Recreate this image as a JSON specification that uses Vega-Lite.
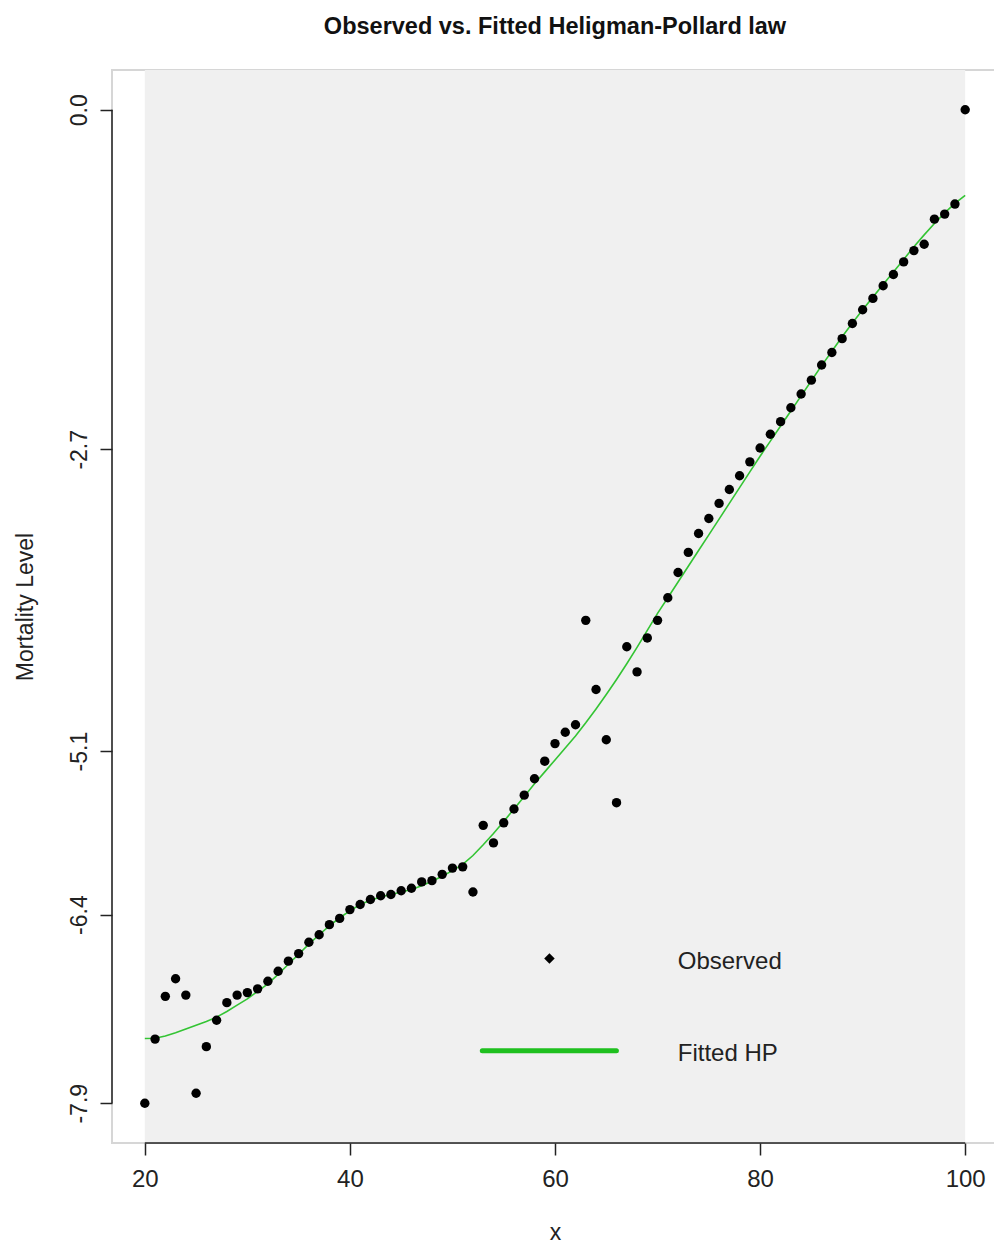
{
  "$schema": "https://vega.github.io/schema/vega-lite/v6.json",
  "width": 886,
  "height": 1073,
  "autosize": {"type": "none"},
  "padding": {"left": 112, "top": 70, "right": 0, "bottom": 101},
  "background": "white",
  "config": {
    "font": "Liberation Sans",
    "view": {"stroke": "#d6d6d6", "strokeWidth": 2},
    "axis": {
      "domain": false,
      "grid": false,
      "tickColor": "#222222",
      "tickWidth": 1.5,
      "tickSize": 12,
      "labelColor": "#222222",
      "labelFont": "Liberation Sans",
      "titleFont": "Liberation Sans",
      "titleFontWeight": "normal",
      "titleColor": "#222222"
    }
  },
  "title": {
    "text": "Observed vs. Fitted Heligman-Pollard law",
    "fontSize": 23.5,
    "fontWeight": "bold",
    "font": "Liberation Sans",
    "color": "#111111",
    "anchor": "middle",
    "offset": 32
  },
  "datasets": {
    "mortality": [
      {"age": 20, "observed": -7.90, "fitted": -7.385},
      {"age": 21, "observed": -7.39, "fitted": -7.383},
      {"age": 22, "observed": -7.05, "fitted": -7.365},
      {"age": 23, "observed": -6.91, "fitted": -7.340},
      {"age": 24, "observed": -7.04, "fitted": -7.310},
      {"age": 25, "observed": -7.82, "fitted": -7.280},
      {"age": 26, "observed": -7.45, "fitted": -7.250},
      {"age": 27, "observed": -7.24, "fitted": -7.215},
      {"age": 28, "observed": -7.10, "fitted": -7.170},
      {"age": 29, "observed": -7.04, "fitted": -7.120},
      {"age": 30, "observed": -7.02, "fitted": -7.070},
      {"age": 31, "observed": -6.99, "fitted": -7.010},
      {"age": 32, "observed": -6.93, "fitted": -6.950},
      {"age": 33, "observed": -6.85, "fitted": -6.875},
      {"age": 34, "observed": -6.77, "fitted": -6.795},
      {"age": 35, "observed": -6.71, "fitted": -6.715},
      {"age": 36, "observed": -6.62, "fitted": -6.635},
      {"age": 37, "observed": -6.56, "fitted": -6.560},
      {"age": 38, "observed": -6.48, "fitted": -6.490},
      {"age": 39, "observed": -6.43, "fitted": -6.425},
      {"age": 40, "observed": -6.36, "fitted": -6.370},
      {"age": 41, "observed": -6.32, "fitted": -6.320},
      {"age": 42, "observed": -6.28, "fitted": -6.285},
      {"age": 43, "observed": -6.25, "fitted": -6.260},
      {"age": 44, "observed": -6.24, "fitted": -6.240},
      {"age": 45, "observed": -6.21, "fitted": -6.220},
      {"age": 46, "observed": -6.19, "fitted": -6.200},
      {"age": 47, "observed": -6.14, "fitted": -6.170},
      {"age": 48, "observed": -6.13, "fitted": -6.135},
      {"age": 49, "observed": -6.08, "fitted": -6.095},
      {"age": 50, "observed": -6.03, "fitted": -6.050},
      {"age": 51, "observed": -6.02, "fitted": -6.000},
      {"age": 52, "observed": -6.22, "fitted": -5.930},
      {"age": 53, "observed": -5.69, "fitted": -5.845},
      {"age": 54, "observed": -5.83, "fitted": -5.755},
      {"age": 55, "observed": -5.67, "fitted": -5.660},
      {"age": 56, "observed": -5.56, "fitted": -5.560},
      {"age": 57, "observed": -5.45, "fitted": -5.460},
      {"age": 58, "observed": -5.32, "fitted": -5.360},
      {"age": 59, "observed": -5.18, "fitted": -5.265},
      {"age": 60, "observed": -5.04, "fitted": -5.170},
      {"age": 61, "observed": -4.95, "fitted": -5.075},
      {"age": 62, "observed": -4.89, "fitted": -4.980},
      {"age": 63, "observed": -4.06, "fitted": -4.875},
      {"age": 64, "observed": -4.61, "fitted": -4.765},
      {"age": 65, "observed": -5.01, "fitted": -4.650},
      {"age": 66, "observed": -5.51, "fitted": -4.530},
      {"age": 67, "observed": -4.27, "fitted": -4.405},
      {"age": 68, "observed": -4.47, "fitted": -4.275},
      {"age": 69, "observed": -4.20, "fitted": -4.140},
      {"age": 70, "observed": -4.06, "fitted": -4.005},
      {"age": 71, "observed": -3.88, "fitted": -3.880},
      {"age": 72, "observed": -3.68, "fitted": -3.755},
      {"age": 73, "observed": -3.52, "fitted": -3.630},
      {"age": 74, "observed": -3.37, "fitted": -3.505},
      {"age": 75, "observed": -3.25, "fitted": -3.380},
      {"age": 76, "observed": -3.13, "fitted": -3.255},
      {"age": 77, "observed": -3.02, "fitted": -3.130},
      {"age": 78, "observed": -2.91, "fitted": -3.005},
      {"age": 79, "observed": -2.80, "fitted": -2.880},
      {"age": 80, "observed": -2.69, "fitted": -2.755},
      {"age": 81, "observed": -2.58, "fitted": -2.635},
      {"age": 82, "observed": -2.48, "fitted": -2.515},
      {"age": 83, "observed": -2.37, "fitted": -2.395},
      {"age": 84, "observed": -2.26, "fitted": -2.275},
      {"age": 85, "observed": -2.15, "fitted": -2.155},
      {"age": 86, "observed": -2.03, "fitted": -2.035},
      {"age": 87, "observed": -1.93, "fitted": -1.920},
      {"age": 88, "observed": -1.82, "fitted": -1.805},
      {"age": 89, "observed": -1.70, "fitted": -1.695},
      {"age": 90, "observed": -1.59, "fitted": -1.590},
      {"age": 91, "observed": -1.50, "fitted": -1.490},
      {"age": 92, "observed": -1.40, "fitted": -1.390},
      {"age": 93, "observed": -1.31, "fitted": -1.290},
      {"age": 94, "observed": -1.21, "fitted": -1.190},
      {"age": 95, "observed": -1.12, "fitted": -1.090},
      {"age": 96, "observed": -1.07, "fitted": -0.995},
      {"age": 97, "observed": -0.87, "fitted": -0.905},
      {"age": 98, "observed": -0.83, "fitted": -0.820},
      {"age": 99, "observed": -0.75, "fitted": -0.745},
      {"age": 100, "observed": 0.00, "fitted": -0.680}
    ]
  },
  "data": {"name": "mortality"},
  "layer": [
    {
      "data": {"values": [{}]},
      "mark": {"type": "rect", "color": "#f0f0f0"},
      "encoding": {
        "x": {"datum": 20, "type": "quantitative", "scale": {"domain": [16.8, 103.2], "nice": false, "zero": false}},
        "x2": {"datum": 100}
      }
    },
    {
      "data": {"values": [{}]},
      "mark": {"type": "rule", "color": "#222222", "strokeWidth": 1.5},
      "encoding": {
        "x": {"datum": 16.8, "type": "quantitative", "scale": {"domain": [16.8, 103.2], "nice": false, "zero": false}},
        "y": {"datum": -7.9, "type": "quantitative", "scale": {"domain": [-8.216, 0.316], "nice": false, "zero": false}},
        "y2": {"datum": 0}
      }
    },
    {
      "data": {"values": [{}]},
      "mark": {"type": "rule", "color": "#222222", "strokeWidth": 1.5},
      "encoding": {
        "x": {"datum": 20, "type": "quantitative", "scale": {"domain": [16.8, 103.2], "nice": false, "zero": false}},
        "x2": {"datum": 100},
        "y": {"datum": -8.216, "type": "quantitative", "scale": {"domain": [-8.216, 0.316], "nice": false, "zero": false}}
      }
    },
    {
      "mark": {"type": "line", "color": "#33c433", "strokeWidth": 1.6, "interpolate": "linear"},
      "encoding": {
        "x": {"field": "age", "type": "quantitative", "scale": {"domain": [16.8, 103.2], "nice": false, "zero": false}},
        "y": {"field": "fitted", "type": "quantitative", "scale": {"domain": [-8.216, 0.316], "nice": false, "zero": false}}
      }
    },
    {
      "mark": {"type": "circle", "color": "#000000", "opacity": 1, "size": 88},
      "encoding": {
        "x": {
          "field": "age",
          "type": "quantitative",
          "scale": {"domain": [16.8, 103.2], "nice": false, "zero": false},
          "axis": {
            "title": "x",
            "values": [20, 40, 60, 80, 100],
            "labelFontSize": 24,
            "labelPadding": 12,
            "titleFontSize": 23,
            "titlePadding": 30
          }
        },
        "y": {
          "field": "observed",
          "type": "quantitative",
          "scale": {"domain": [-8.216, 0.316], "nice": false, "zero": false},
          "axis": {
            "title": "Mortality Level",
            "values": [0, -2.7, -5.1, -6.4, -7.9],
            "labelExpr": "datum.value == 0 ? '0.0' : toString(datum.value)",
            "labelAngle": -90,
            "labelAlign": "center",
            "labelBaseline": "alphabetic",
            "labelFontSize": 23,
            "labelPadding": 14,
            "titleFontSize": 23,
            "titlePadding": 31
          }
        }
      }
    },
    {
      "data": {"values": [{}]},
      "mark": {"type": "point", "shape": "diamond", "filled": true, "color": "#000000", "opacity": 1, "size": 110},
      "encoding": {
        "x": {"datum": 59.46, "type": "quantitative", "scale": {"domain": [16.8, 103.2], "nice": false, "zero": false}},
        "y": {"datum": -6.749, "type": "quantitative", "scale": {"domain": [-8.216, 0.316], "nice": false, "zero": false}}
      }
    },
    {
      "data": {"values": [{}]},
      "mark": {"type": "rule", "color": "#1fc01f", "strokeWidth": 5, "strokeCap": "round"},
      "encoding": {
        "x": {"datum": 52.91, "type": "quantitative", "scale": {"domain": [16.8, 103.2], "nice": false, "zero": false}},
        "x2": {"datum": 65.99},
        "y": {"datum": -7.483, "type": "quantitative", "scale": {"domain": [-8.216, 0.316], "nice": false, "zero": false}}
      }
    },
    {
      "data": {"values": [{}]},
      "mark": {"type": "text", "align": "left", "baseline": "middle", "fontSize": 24, "font": "Liberation Sans", "color": "#222222", "text": "Observed"},
      "encoding": {
        "x": {"datum": 71.97, "type": "quantitative", "scale": {"domain": [16.8, 103.2], "nice": false, "zero": false}},
        "y": {"datum": -6.78, "type": "quantitative", "scale": {"domain": [-8.216, 0.316], "nice": false, "zero": false}}
      }
    },
    {
      "data": {"values": [{}]},
      "mark": {"type": "text", "align": "left", "baseline": "middle", "fontSize": 24, "font": "Liberation Sans", "color": "#222222", "text": "Fitted HP"},
      "encoding": {
        "x": {"datum": 71.97, "type": "quantitative", "scale": {"domain": [16.8, 103.2], "nice": false, "zero": false}},
        "y": {"datum": -7.51, "type": "quantitative", "scale": {"domain": [-8.216, 0.316], "nice": false, "zero": false}}
      }
    }
  ]
}
